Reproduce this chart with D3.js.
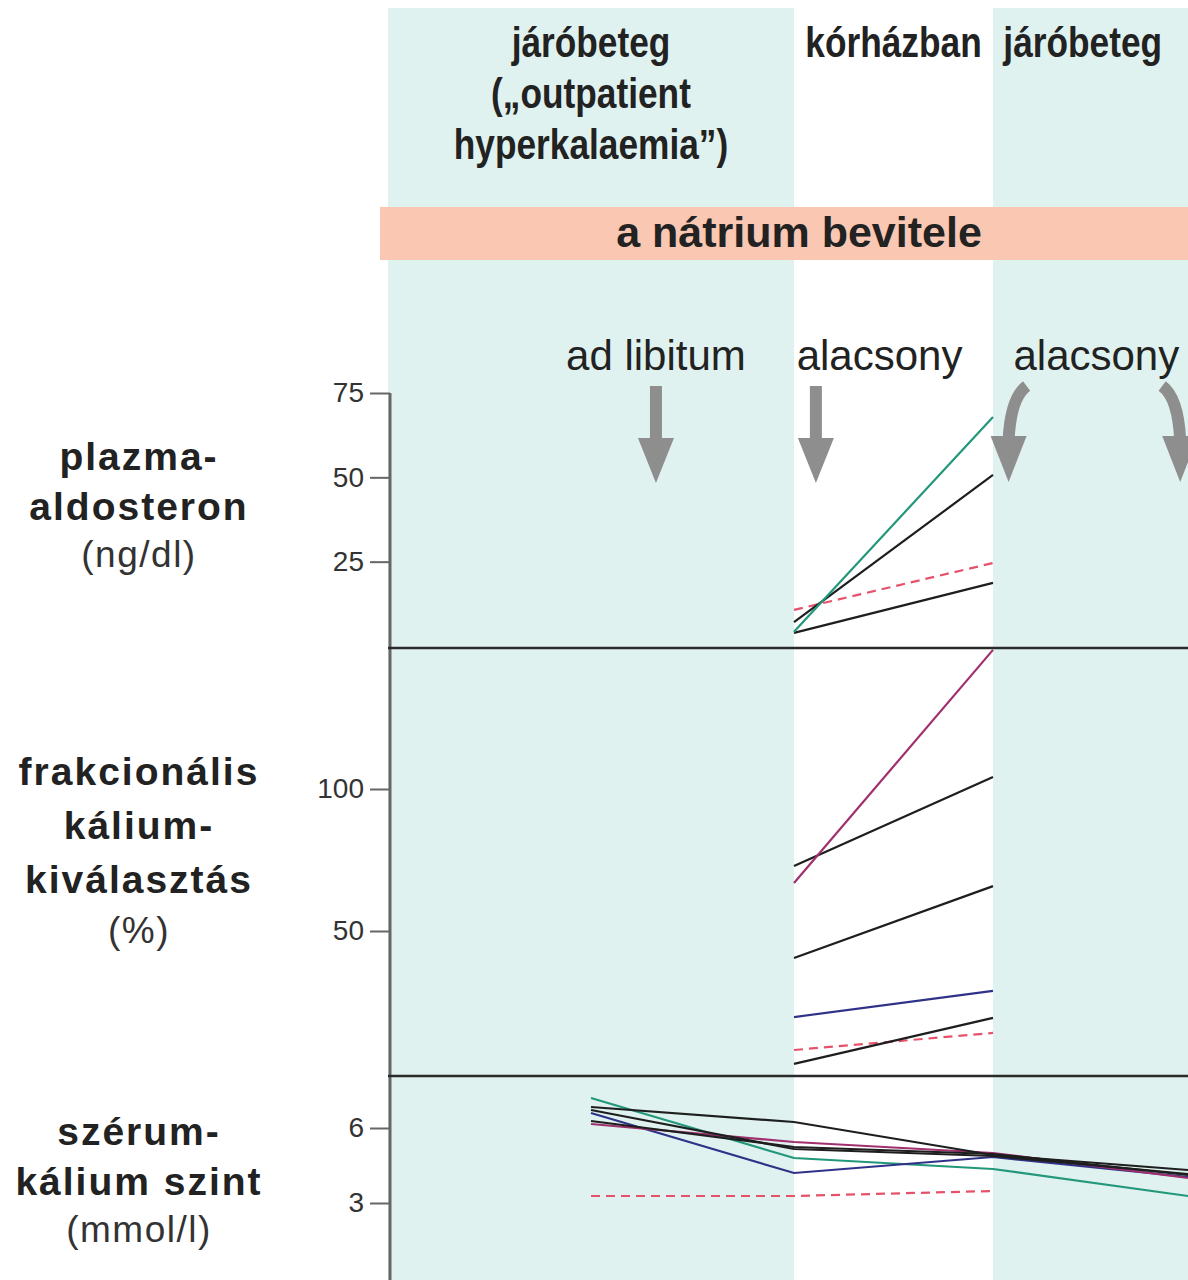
<!DOCTYPE html>
<html>
<head>
<meta charset="utf-8">
<script src="https://cdn.jsdelivr.net/npm/d3@7"></script>
<style>
  body { margin: 0; background: #fff; }
  svg { display: block; }
  .lbl { font-family: "Liberation Sans", Arial, sans-serif; fill: #222; }
  .tick text { font-family: "Liberation Sans", Arial, sans-serif; font-size: 28px; fill: #333; }
  .tick line { stroke: #666; stroke-width: 2; }
</style>
</head>
<body>
<div id="chart"></div>
<script>
// phases (time axis: 0..1 outpatient, 1..2 hospital, 2..3 outpatient)
var phaseBounds = [0, 1, 2, 3];
var phaseShaded = [true, false, true];
var phaseTitles = [["járóbeteg", "(„outpatient", "hyperkalaemia”)"], ["kórházban"], ["járóbeteg"]];
var sodiumTitle = "a nátrium bevitele";
var sodiumLabels = ["ad libitum", "alacsony", "alacsony"];
var sodiumLabelT = [0.66, 1.43, 2.53];
var straightArrowT = [0.66, 1.11];
var curvedArrowT = [2.08, 2.96];

// panel 1: plazma-aldoszteron (ng/dl), measured at t=1 and t=2
var aldoTimes = [1, 2];
var aldoTicks = [25, 50, 75];
var aldoGreen = [4.2, 67.9];
var aldoBlackA = [7.1, 50.7];
var aldoBlackB = [3.9, 18.7];
var aldoRef = [10.7, 24.6];

// panel 2: frakcionális kálium-kiválasztás (%), t=1 and t=2
var fekTimes = [1, 2];
var fekTicks = [50, 100];
var fekMagenta = [66.9, 149];
var fekBlackA = [72.9, 104.2];
var fekBlackB = [40.5, 65.8];
var fekBlue = [19.7, 28.9];
var fekBlackC = [3.2, 19.4];
var fekRef = [8.1, 14.1];

// panel 3: szérum-kálium szint (mmol/l), t=0.5, 1, 2, 3
var kTimes = [0.5, 1, 2, 3];
var kTicks = [3, 6];
var kGreen = [7.2, 4.8, 4.36, 3.28];
var kBlackA = [6.84, 6.24, 4.92, 4.32];
var kBlue = [6.6, 4.2, 4.84, 4.04];
var kMagenta = [6.16, 5.44, 5.0, 4.0];
var kBlackB = [6.72, 5.16, 4.88, 4.16];
var kBlackC = [6.28, 5.24, 4.96, 4.12];
var kRefTimes = [0.5, 1, 2];
var kRef = [3.28, 3.28, 3.48];

var W = 1188, H = 1280;
var C = {teal: "#dff2ef", band: "#f9c7b2", arrow: "#8e8e8e", green: "#23977a", black: "#1e1e1e",
         magenta: "#a0306e", blue: "#2f3288", red: "#e5526a"};

var svg = d3.select("#chart").append("svg").attr("width", W).attr("height", H);
var x = d3.scaleLinear().domain(phaseBounds).range([388, 794, 993, 1188]);

// background phase columns
svg.selectAll("rect.phase").data(d3.range(3).filter(function(i) { return phaseShaded[i]; }))
  .enter().append("rect").attr("class", "phase")
  .attr("x", function(i) { return x(phaseBounds[i]); }).attr("y", 8)
  .attr("width", function(i) { return x(phaseBounds[i + 1]) - x(phaseBounds[i]); })
  .attr("height", H - 8).attr("fill", C.teal);

// phase headings (condensed look: squeeze horizontally)
var headCx = [x(0.5), x(1.5), x(2.46)];
phaseTitles.forEach(function(lines, i) {
  var t = svg.append("g").attr("transform", "translate(" + headCx[i] + ",0) scale(0.84,1)")
    .append("text").attr("class", "lbl").attr("text-anchor", "middle")
    .attr("font-size", 42).attr("font-weight", "bold").attr("fill", "#1c1c1c");
  lines.forEach(function(s, k) {
    t.append("tspan").attr("x", 0).attr("y", 57 + k * 51).text(s);
  });
});

// sodium band
svg.append("rect").attr("x", 380).attr("y", 207).attr("width", W - 380).attr("height", 53).attr("fill", C.band);
svg.append("text").attr("class", "lbl").attr("x", 799).attr("y", 247).attr("text-anchor", "middle")
  .attr("font-size", 43).attr("font-weight", "bold").attr("fill", "#2a1a16").text(sodiumTitle);

svg.selectAll("text.sod").data(sodiumLabels).enter().append("text").attr("class", "lbl sod")
  .attr("x", function(d, i) { return x(sodiumLabelT[i]); }).attr("y", 370)
  .attr("text-anchor", "middle").attr("font-size", 42).attr("fill", "#333").text(function(d) { return d; });

// arrows
straightArrowT.forEach(function(t) {
  var cx = x(t);
  svg.append("path").attr("fill", C.arrow)
    .attr("d", "M" + (cx - 6) + ",386 L" + (cx + 6) + ",386 L" + (cx + 6) + ",438 L" + (cx + 18) + ",438 L" + cx + ",483 L" + (cx - 18) + ",438 L" + (cx - 6) + ",438 Z");
});
curvedArrowT.forEach(function(t, i) {
  var cx = x(t), dir = i === 0 ? 1 : -1;
  svg.append("path").attr("fill", "none").attr("stroke", C.arrow).attr("stroke-width", 12)
    .attr("d", "M" + (cx + dir * 18) + ",386 Q" + (cx + dir * 2) + ",398 " + cx + ",440");
  svg.append("path").attr("fill", C.arrow)
    .attr("d", "M" + (cx - 18) + ",436 L" + (cx + 18) + ",436 L" + cx + ",482 Z");
});

// panels
var panels = [
  {y: d3.scaleLinear().domain([0, 75]).range([646, 393]), ticks: aldoTicks,
   title: ["plazma-", "aldosteron"], unit: "(ng/dl)", ty: 470,
   series: [
     {t: aldoTimes, v: aldoRef, c: C.red, dash: true},
     {t: aldoTimes, v: aldoBlackB, c: C.black},
     {t: aldoTimes, v: aldoBlackA, c: C.black},
     {t: aldoTimes, v: aldoGreen, c: C.green}]},
  {y: d3.scaleLinear().domain([0, 100]).range([1073, 789]), ticks: fekTicks,
   title: ["frakcionális", "kálium-", "kiválasztás"], unit: "(%)", ty: 785,
   series: [
     {t: fekTimes, v: fekRef, c: C.red, dash: true},
     {t: fekTimes, v: fekBlackC, c: C.black},
     {t: fekTimes, v: fekBlue, c: C.blue},
     {t: fekTimes, v: fekBlackB, c: C.black},
     {t: fekTimes, v: fekBlackA, c: C.black},
     {t: fekTimes, v: fekMagenta, c: C.magenta}]},
  {y: d3.scaleLinear().domain([0, 6]).range([1278, 1128]), ticks: kTicks,
   title: ["szérum-", "kálium szint"], unit: "(mmol/l)", ty: 1145,
   series: [
     {t: kRefTimes, v: kRef, c: C.red, dash: true},
     {t: kTimes, v: kGreen, c: C.green},
     {t: kTimes, v: kBlue, c: C.blue},
     {t: kTimes, v: kMagenta, c: C.magenta},
     {t: kTimes, v: kBlackC, c: C.black},
     {t: kTimes, v: kBlackB, c: C.black},
     {t: kTimes, v: kBlackA, c: C.black}]}
];

panels.forEach(function(p) {
  var g = svg.append("g");
  var axis = d3.axisLeft(p.y).tickValues(p.ticks).tickFormat(d3.format("d")).tickSize(20).tickPadding(6);
  var ax = g.append("g").attr("transform", "translate(390,0)").call(axis);
  ax.select(".domain").remove();

  var line = d3.line().x(function(d) { return x(d[0]); }).y(function(d) { return p.y(d[1]); });
  p.series.forEach(function(s) {
    g.append("path").datum(d3.zip(s.t, s.v)).attr("fill", "none")
      .attr("stroke", s.c).attr("stroke-width", 2.2)
      .attr("stroke-dasharray", s.dash ? "9,6" : null)
      .attr("d", line);
  });

  var t = g.append("text").attr("class", "lbl").attr("text-anchor", "middle");
  var step = p.title.length > 2 ? 54 : 50;
  p.title.forEach(function(s, k) {
    t.append("tspan").attr("x", 139).attr("y", p.ty + k * step)
      .attr("font-size", 39).attr("font-weight", "bold").attr("letter-spacing", 2).text(s);
  });
  t.append("tspan").attr("x", 139).attr("y", p.ty + p.title.length * (step - 1.5))
    .attr("font-size", 37).attr("fill", "#333").attr("letter-spacing", 1.5).text(p.unit);
});

// dividers and axis line
svg.append("line").attr("x1", 390).attr("x2", 390).attr("y1", 393).attr("y2", H)
  .attr("stroke", "#666").attr("stroke-width", 3);
[648, 1076].forEach(function(yy) {
  svg.append("line").attr("x1", 388).attr("x2", W).attr("y1", yy).attr("y2", yy)
    .attr("stroke", "#2a2a2a").attr("stroke-width", 2.5);
});
</script>
</body>
</html>
